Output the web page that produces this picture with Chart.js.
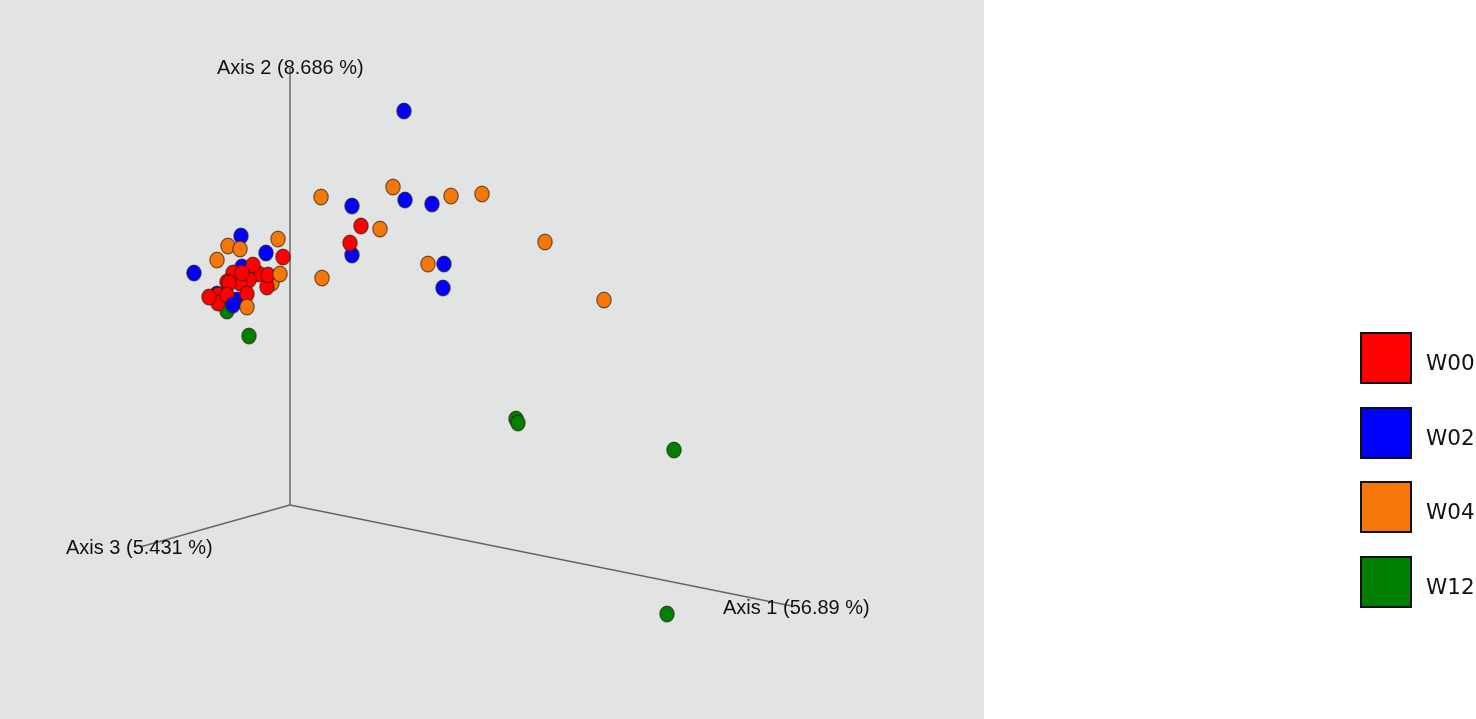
<!DOCTYPE html>
<html>
<head>
<meta charset="utf-8">
<title>PCoA W00-W12</title>
<script src="https://cdn.jsdelivr.net/npm/chart.js@4"></script>
<style>
  html, body { margin: 0; padding: 0; background: #fff; }
  canvas { display: block; }
</style>
</head>
<body>
<canvas id="pcoaChart" width="1476" height="719"></canvas>
<script>
// Ordination values, origin = where the three axes meet
// (w00 is listed back to front so the cluster overlaps the same way)
const w00X = [-72, -72, -31, -41, -50, -57, -23, -63, -43, -7, -37, -22, -61, -48, -63, -81, 71, 60];
const w00Y = [210, 202, 231, 225, 222, 232, 218, 223, 211, 248, 240, 230, 222, 232, 210, 208, 279, 262];

const w02X = [-49, -24, -96, -48, -73, -53, 114, 62, 115, 142, 62, 154, 153];
const w02Y = [269, 252, 232, 238, 211, 205, 394, 299, 305, 301, 250, 241, 217];

const w04X = [-12, -62, -50, -73, -18, 31, 103, 161, 192, 90, 255, 138, 32, 314];
const w04Y = [266, 259, 256, 245, 222, 308, 318, 309, 311, 276, 263, 241, 227, 205];

const w12X = [-63, -41, 226, 228, 384, 377];
const w12Y = [194, 169, 86, 82, 55, -109];

// these few sit on top of the red cluster
const w02FrontX = [-57];
const w02FrontY = [200];
const w04FrontX = [-10, -43];
const w04FrontY = [231, 198];

const axisLabels = ["Axis 1 (56.89 %)", "Axis 2 (8.686 %)", "Axis 3 (5.431 %)"];
const axis1EndX = [0, 502];
const axis1EndY = [0, -101];
const axis2EndX = [0, 0];
const axis2EndY = [0, 437];
const axis3EndX = [0, -150];
const axis3EndY = [0, -42];

const legendLabels = ["W00", "W02", "W04", "W12"];
const legendColors = ["#ff0000", "#0000ff", "#f57708", "#008000"];

const toPoints = (xs, ys) => xs.map((x, i) => ({ x: x, y: ys[i] }));

// the markers in the picture are a little taller than wide, so draw an ellipse sprite
function dotSprite(color) {
  const c = document.createElement("canvas");
  c.width = 20;
  c.height = 20;
  const g = c.getContext("2d");
  g.beginPath();
  g.ellipse(10, 10, 7.2, 7.9, 0, 0, Math.PI * 2);
  g.fillStyle = color;
  g.fill();
  g.lineWidth = 1.2;
  g.strokeStyle = "rgba(50,25,15,0.65)";
  g.stroke();
  return c;
}

function markers(label, xs, ys, color, order) {
  return {
    label: label,
    data: toPoints(xs, ys),
    backgroundColor: color,
    pointStyle: dotSprite(color),
    pointRadius: 8,
    order: order
  };
}

function axisLine(label, xs, ys) {
  return {
    label: label,
    data: toPoints(xs, ys),
    showLine: true,
    borderColor: "#666666",
    borderWidth: 1.5,
    pointRadius: 0,
    order: 10
  };
}

// grey plot panel behind everything
const panelPlugin = {
  id: "panel",
  beforeDraw(chart) {
    const ctx = chart.ctx;
    ctx.save();
    ctx.fillStyle = "#ffffff";
    ctx.fillRect(0, 0, chart.width, chart.height);
    ctx.fillStyle = "#e2e4e3";
    ctx.fillRect(0, 0, 984, chart.height);
    ctx.restore();
  }
};

// axis captions sit over the line ends, and the legend is out on the white part
const labelsPlugin = {
  id: "labels",
  afterDraw(chart) {
    const ctx = chart.ctx;
    ctx.save();
    ctx.textBaseline = "middle";
    ctx.textAlign = "left";
    ctx.fillStyle = "#111";
    ctx.font = '20px "Liberation Sans", Arial, sans-serif';
    ctx.fillText(axisLabels[0], 723, 608);
    ctx.fillText(axisLabels[1], 217, 68);
    ctx.fillText(axisLabels[2], 66, 548);

    const rows = [333, 408, 482, 557];
    ctx.font = '21.5px "DejaVu Sans", Verdana, sans-serif';
    legendLabels.forEach((label, i) => {
      ctx.fillStyle = legendColors[i];
      ctx.fillRect(1361, rows[i], 50, 50);
      ctx.strokeStyle = "#111";
      ctx.lineWidth = 2;
      ctx.strokeRect(1361, rows[i], 50, 50);
      ctx.fillStyle = "#111";
      ctx.fillText(label, 1426, rows[i] + 31);
    });
    ctx.restore();
  }
};

new Chart(document.getElementById("pcoaChart"), {
  type: "scatter",
  data: {
    datasets: [
      axisLine(axisLabels[0], axis1EndX, axis1EndY),
      axisLine(axisLabels[1], axis2EndX, axis2EndY),
      axisLine(axisLabels[2], axis3EndX, axis3EndY),
      markers("W12", w12X, w12Y, legendColors[3], 6),
      markers("W02", w02X, w02Y, legendColors[1], 5),
      markers("W04", w04X, w04Y, legendColors[2], 4),
      markers("W00", w00X, w00Y, legendColors[0], 3),
      markers("W02", w02FrontX, w02FrontY, legendColors[1], 2),
      markers("W04", w04FrontX, w04FrontY, legendColors[2], 1)
    ]
  },
  options: {
    responsive: false,
    animation: false,
    devicePixelRatio: 1,
    layout: { padding: 0, autoPadding: false },
    plugins: {
      legend: { display: false },
      tooltip: { enabled: false }
    },
    scales: {
      x: { type: "linear", display: false, min: -290, max: 1186 },
      y: { type: "linear", display: false, min: -214, max: 505 }
    }
  },
  plugins: [panelPlugin, labelsPlugin]
});
</script>
</body>
</html>
